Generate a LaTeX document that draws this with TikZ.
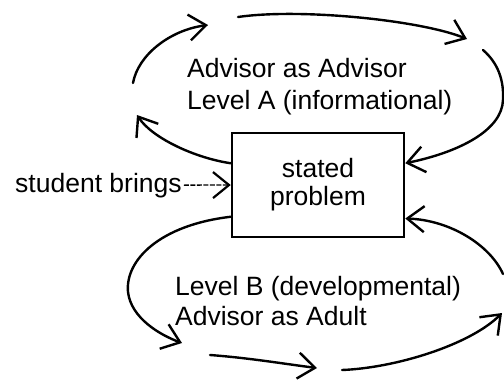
\documentclass[tikz,border=0pt]{standalone}
\usepackage{fontspec}
\setmainfont{Liberation Sans}
\usetikzlibrary{arrows.meta}
\tikzset{
  lbl/.style={anchor=base west, inner sep=0pt, font=\fontsize{26.5}{28}\selectfont},
  loop/.style={line width=2.4pt, line cap=round, -{Straight Barb[length=17pt,width=26pt,line width=2.4pt]}},
  plain/.style={line width=2.4pt, line cap=round},
  probbox/.style={draw, line width=2.5pt, minimum width=172pt, minimum height=104pt, inner sep=0pt, align=center, font=\fontsize{26.5}{28}\selectfont}
}
\begin{document}
\begin{tikzpicture}[x=1pt,y=-1pt]
\useasboundingbox (0,0) rectangle (504,386);
% central box
\node[probbox] (box) at (318,185) {stated\\problem};
% labels
\node[lbl] (la1) at (187,77) {Advisor as Advisor};
\node[lbl] (la2) at (187,109) {Level A (informational)};
\node[lbl] (lb1) at (175,295) {Level B (developmental)};
\node[lbl] (lb2) at (175,325) {Advisor as Adult};
\node[lbl] (sb) at (15,192) {student brings};
% free ends of the loop arrows
\coordinate (t1) at (137,115);
\coordinate (t2s) at (133,83);
\coordinate (t2) at (208,25);
\coordinate (t3s) at (238,17);
\coordinate (t3) at (467,39);
\coordinate (t4s) at (483,50);
\coordinate (t4m) at (503,100);
\coordinate (b1m) at (128,292);
\coordinate (b1) at (182,343);
\coordinate (b2s) at (210,355);
\coordinate (b2) at (317,368);
\coordinate (b3s) at (342,370);
\coordinate (b3) at (502,313);
\coordinate (b4s) at (503,274);
% upper loop
\draw[loop] (box.166) .. controls (195,158) and (152,138) .. (t1);
\draw[loop] (t2s) .. controls (138,55) and (170,30) .. (t2);
\draw[loop] (t3s) .. controls (300,8) and (420,20) .. (t3);
\draw[plain] (t4s) .. controls (498,63) and (504,80) .. (t4m);
\draw[loop] (t4m) .. controls (502,130) and (460,152) .. (box.14);
% lower loop
\draw[plain] (box.200) .. controls (160,225) and (125,260) .. (b1m);
\draw[loop] (b1m) .. controls (131,318) and (160,335) .. (b1);
\draw[loop] (b2s) .. controls (250,358) and (285,364) .. (b2);
\draw[loop] (b3s) .. controls (395,368) and (470,345) .. (b3);
\draw[loop] (b4s) .. controls (490,245) and (450,220) .. (box.-21);
% student brings arrow
\draw[line width=1.3pt, dash pattern=on 5pt off 1.5pt, -{Straight Barb[length=16pt,width=26pt,line width=2.2pt]}] (sb.east) ++(2,0) -- (box.west);
\end{tikzpicture}
\end{document}
